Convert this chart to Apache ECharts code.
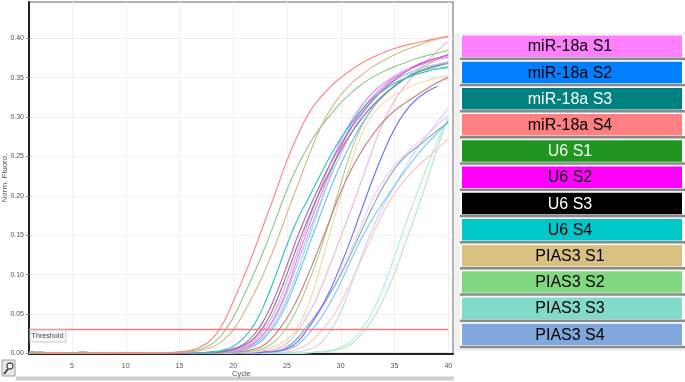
<!DOCTYPE html>
<html><head><meta charset="utf-8">
<style>html,body{margin:0;padding:0;background:#fff}#c{width:685px;height:382px;filter:blur(0.45px)}</style>
<script src="https://cdn.jsdelivr.net/npm/echarts@6/dist/echarts.min.js"></script>
</head><body><div id="c"></div>
<script>
// Cycles 1-13 (baseline) and 14-40 (amplification)
const baseA=[.002,.001,.0005,.0005,.001,.0015,.001,.0005,.0005,.0005,.0005,.0005,.0005];
const baseB=[.001,.0015,.001,.001,.0005,.0005,.0005,.001,.001,.0005,.0005,.001,.001];
const baseC=[.0005,.0005,0,0,.0005,.001,.0005,0,0,0,.0005,.0005,.0005];

const redA =[.001,.002,.004,.009,.018,.037,.066,.098,.133,.17,.207,.245,.277,.304,.323,.338,.35,.36,.369,.376,.382,.387,.391,.394,.397,.4,.402];
const greenB=[.001,.002,.003,.006,.012,.025,.046,.074,.104,.136,.172,.208,.238,.264,.285,.302,.318,.331,.342,.351,.358,.364,.369,.374,.378,.381,.385];
const tanC =[.001,.001,.002,.004,.008,.016,.03,.052,.078,.107,.141,.178,.214,.25,.283,.309,.328,.343,.354,.364,.372,.379,.385,.39,.395,.399,.402];
const cyanD=[.001,.001,.001,.001,.002,.004,.009,.02,.038,.066,.101,.138,.171,.197,.224,.25,.273,.293,.31,.324,.334,.343,.349,.354,.358,.361,.363];
const purpE=[0,.001,.001,.001,.002,.003,.006,.012,.025,.046,.076,.112,.149,.182,.212,.24,.265,.287,.306,.322,.336,.347,.357,.365,.371,.375,.379];
const blackF=[0,0,.001,.001,.001,.002,.005,.01,.02,.038,.066,.101,.138,.172,.204,.232,.258,.28,.299,.315,.328,.339,.349,.356,.361,.365,.368];
const pinkG=[0,0,.001,.001,.001,.002,.004,.008,.017,.033,.058,.092,.13,.168,.205,.24,.27,.296,.316,.331,.343,.352,.36,.366,.371,.375,.378];
const blueH=[0,0,0,.001,.001,.002,.003,.007,.014,.027,.048,.078,.115,.152,.188,.222,.253,.28,.303,.321,.335,.346,.354,.36,.364,.367,.37];
const tealI=[0,0,0,.001,.001,.001,.003,.006,.012,.024,.042,.07,.105,.145,.185,.225,.262,.292,.315,.332,.343,.35,.354,.357,.36,.362,.364];
const magW =[0,0,0,.001,.001,.002,.003,.007,.014,.028,.05,.082,.122,.16,.196,.23,.261,.288,.31,.326,.339,.35,.358,.364,.369,.373,.376];
const blueX=[0,0,0,0,.001,.001,.002,.005,.01,.021,.038,.064,.098,.135,.172,.208,.24,.268,.292,.312,.328,.34,.349,.356,.362,.366,.37];
const brownJ=[0,0,0,0,.001,.001,.002,.003,.006,.012,.026,.045,.07,.101,.135,.17,.205,.234,.258,.278,.295,.308,.318,.327,.336,.344,.35];
const oliveK=[0,0,0,0,0,.001,.001,.002,.004,.008,.017,.034,.058,.09,.127,.17,.215,.258,.29,.312,.327,.339,.349,.358,.366,.373,.38];
const paleL=[0,0,0,0,0,0,.001,.002,.003,.006,.01,.018,.034,.062,.105,.153,.2,.244,.28,.304,.318,.328,.335,.342,.346,.35,.352];
const roseM=[0,0,0,0,0,0,.001,.001,.002,.004,.006,.013,.029,.05,.078,.112,.148,.184,.222,.26,.295,.321,.34,.356,.37,.384,.396];
const blueN=[0,0,0,0,0,0,0,.001,.001,.002,.003,.006,.015,.033,.054,.08,.112,.147,.185,.222,.256,.285,.307,.322,.332,.339,null];
const pinkO=[0,0,0,0,0,0,0,.001,.001,.002,.004,.009,.018,.033,.052,.075,.102,.133,.165,.197,.22,.238,.253,.265,.277,.29,.302];
const tealP=[0,0,0,0,0,0,0,.001,.001,.002,.003,.008,.02,.037,.055,.076,.1,.128,.158,.187,.213,.234,.25,.261,.272,.283,.293];
const skyQ =[0,0,0,0,0,0,0,0,.001,.001,.002,.005,.011,.025,.042,.064,.09,.12,.148,.172,.193,.213,.232,.25,.266,.28,.295];
const paleR=[0,0,0,0,0,0,0,0,0,.001,.001,.001,.002,.005,.012,.028,.053,.088,.126,.16,.188,.212,.236,.258,.276,.294,.311];
const redS =[0,0,0,0,0,0,0,0,0,.001,.001,.002,.006,.013,.026,.042,.064,.092,.122,.152,.18,.203,.221,.235,.248,.26,.273];
const tealT=[0,0,0,0,0,0,0,0,0,0,0,0,0,.001,.002,.004,.008,.016,.032,.054,.085,.123,.163,.2,.236,.27,.298];
const greenU=[0,0,0,0,0,0,0,0,0,0,0,0,0,.001,.002,.003,.006,.012,.026,.044,.07,.102,.14,.178,.218,.261,.3];

const legendNames=['miR-18a S1','miR-18a S2','miR-18a S3','miR-18a S4','U6 S1','U6 S2','U6 S3','U6 S4','PIAS3 S1','PIAS3 S2','PIAS3 S3','PIAS3 S4'];
const legendColors=['#ff80ff','#0080ff','#008080','#ff8080','#209620','#ff00ff','#000000','#00c8c8','#d8c080','#80d880','#80dcc8','#80a8dc'];
const legendText=['#000','#000','#fff','#000','#fff','#000','#fff','#000','#000','#000','#000','#000'];

const curves=[
 [greenU,'#b0ecb8',baseA],[tealT,'#b0ecdc',baseB],[redS,'#ffc4c0',baseA],[paleR,'#c4d8f4',baseC],
 [skyQ,'#88c4ff',baseB],[pinkO,'#ffc0ff',baseA],[tealP,'#78b8b4',baseC],[blueN,'#7070ff',baseB],
 [roseM,'#eeb8d8',baseA],[paleL,'#ecdcb0',baseC],[oliveK,'#b0d080',baseA],[brownJ,'#c88080',baseB],
 [tealI,'#90e0dc',baseA],[blueX,'#80b8e8',baseC],[blueH,'#a0c8ec',baseB],[magW,'#ff70ff',baseA],
 [pinkG,'#e8a0ec',baseC],[blackF,'#808080',baseC],[purpE,'#b860c8',baseB],[cyanD,'#30c4c0',baseA],
 [tanC,'#d8b880',baseB],[greenB,'#90c890',baseC],[redA,'#ff8484',baseA]
];
const thresholdValue=0.0305;
const xTicks=[5,10,15,20,25,30,35,40];
const yTicks=[0,0.05,0.10,0.15,0.20,0.25,0.30,0.35,0.40];

const series=curves.map(([vals,color,base])=>({
  type:'line',symbol:'none',silent:true,smooth:0.5,
  data:base.concat(vals).map((v,i)=>[i+1,v]),
  lineStyle:{color,width:1.15},
  clip:true
}));
series.push({type:'line',symbol:'none',silent:true,data:[[1,thresholdValue],[40,thresholdValue]],lineStyle:{color:'#ff7878',width:1.5}});

const g=[
 {type:'rect',z:0,shape:{x:454.5,y:33,width:231,height:318},style:{fill:'#f0f0f0'}},
 {type:'rect',z:0,shape:{x:16,y:376.5,width:438,height:4},style:{fill:'#cfcfcf'}},
 {type:'rect',z:5,shape:{x:2,y:360,width:13,height:16},style:{fill:'#e8e8e8',stroke:'#a0a0a0',lineWidth:1}},
 {type:'circle',z:6,shape:{cx:10,cy:366,r:3},style:{fill:'#fff',stroke:'#555',lineWidth:1.3}},
 {type:'line',z:6,shape:{x1:8,y1:369,x2:4,y2:374},style:{stroke:'#444',lineWidth:2}},
 {type:'text',z:6,x:30.5,y:330.5,style:{text:'Threshold',font:'7.2px "Liberation Sans"',fill:'#444',backgroundColor:'#f8f8f8',borderColor:'#c8c8c8',borderWidth:1,padding:[2,2,2,1]}},
 {type:'text',z:6,x:232,y:370,style:{text:'Cycle',font:'7.5px "Liberation Sans"',fill:'#555'}},
 {type:'text',z:6,x:5,y:178,rotation:Math.PI/2,style:{text:'Norm. Fluoro.',font:'8px "Liberation Sans"',fill:'#555',align:'center',verticalAlign:'middle'}}
];
legendNames.forEach((name,i)=>{
  const top=35.5+26.2*i;
  g.push({type:'rect',z:1,shape:{x:460,y:top-1,width:225,height:25},style:{fill:'#fff'}});
  g.push({type:'rect',z:2,shape:{x:460,y:top+22,width:225,height:2.5},style:{fill:'#8a8a8a'}});
  g.push({type:'rect',z:3,shape:{x:462,y:top,width:220,height:21.5},style:{fill:legendColors[i]}});
  g.push({type:'text',z:4,x:570,y:top+11.5,style:{text:name,font:'16px "Liberation Sans"',fill:legendText[i],align:'center',verticalAlign:'middle'}});
});

const chart=echarts.init(document.getElementById('c'),null,{renderer:'canvas'});
chart.setOption({
 animation:false,backgroundColor:'#fff',
 grid:{left:29,top:2,width:424,height:351.5,show:true,borderColor:'#999',borderWidth:1.5,backgroundColor:'#fff'},
 xAxis:{type:'value',min:1,max:40.44,
   axisLine:{show:true,onZero:false,lineStyle:{color:'#222',width:2}},
   axisTick:{show:false,customValues:xTicks},
   axisLabel:{customValues:xTicks,color:'#555',fontSize:7,fontFamily:'Liberation Sans',margin:9},
   splitLine:{show:true,lineStyle:{color:'#f0f0f0',width:1}}},
 yAxis:{type:'value',min:0,max:0.446,
   axisLine:{show:true,onZero:false,lineStyle:{color:'#222',width:2}},
   axisTick:{show:true,length:3,customValues:yTicks,lineStyle:{color:'#888'}},
   axisLabel:{customValues:yTicks,color:'#555',fontSize:7,fontFamily:'Liberation Sans',margin:5,formatter:v=>v.toFixed(2)},
   splitLine:{show:true,lineStyle:{color:'#f0f0f0',width:1}}},
 series,
 graphic:g
});
</script></body></html>
